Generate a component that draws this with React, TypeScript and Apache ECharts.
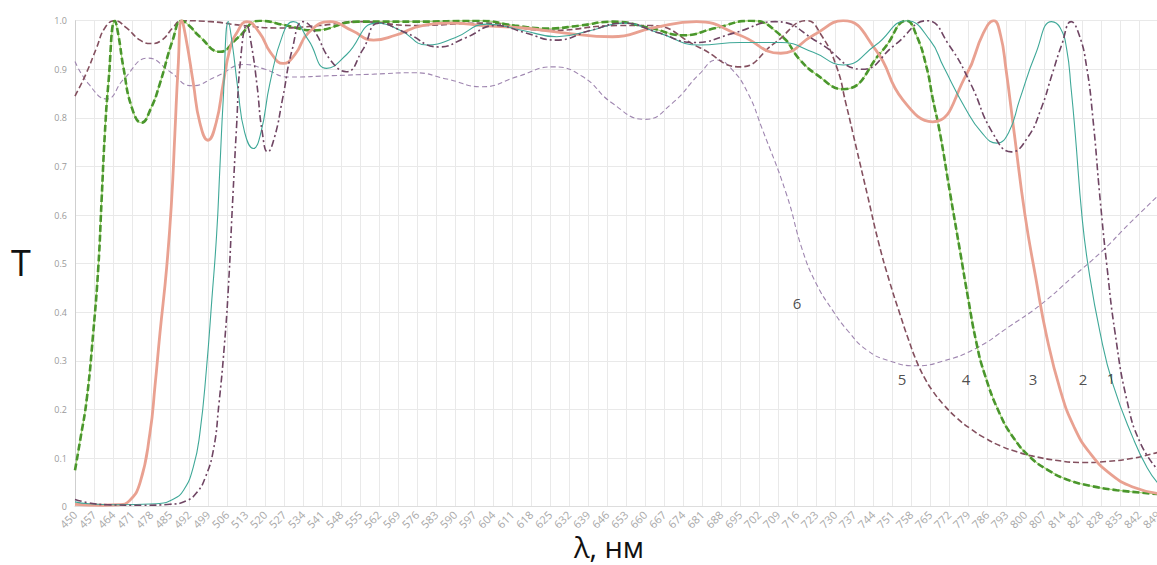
import React, { useEffect, useRef } from "react";
import * as echarts from "echarts";

// wavelengths axis
const X_MIN = 450;
const X_MAX = 849;
const X_STEP = 7;

// Curve 1 (dash-dot, dark mauve)
const curve1: [number, number][] = [
  [450, 0.015], [455, 0.008], [462, 0.004], [475, 0.003], [485, 0.005], [491, 0.012], [495, 0.03], [498, 0.06],
  [501, 0.117], [503, 0.21], [505, 0.33], [506.5, 0.45], [508, 0.62], [509.5, 0.78], [511, 0.92], [513.3, 0.99],
  [515, 0.95], [517, 0.87], [519, 0.77], [521, 0.73], [523.5, 0.76], [526.5, 0.84], [530, 0.94], [534, 0.998],
  [538, 0.98], [544, 0.92], [550, 0.895], [556, 0.94], [562, 0.995], [572, 0.975], [584, 0.946], [594, 0.965],
  [605, 0.99], [616, 0.975], [627, 0.96], [640, 0.98], [652, 0.995], [665, 0.975], [678, 0.955], [693, 0.975],
  [708, 0.998], [724, 0.955], [740, 0.9], [752, 0.95], [764, 1.0], [772, 0.95], [780, 0.87], [788, 0.77],
  [795, 0.73], [801, 0.76], [806, 0.82], [810, 0.89], [813.5, 0.95], [817, 0.998], [820, 0.97], [822.7, 0.905],
  [825, 0.8], [827.7, 0.631], [830.2, 0.494], [833.2, 0.357], [837.5, 0.22], [842.5, 0.131], [849, 0.075],
];

// Curve 2 (thin solid teal)
const curve2: [number, number][] = [
  [450, 0.01], [455, 0.006], [465, 0.004], [480, 0.006], [486, 0.015], [490, 0.034], [493.6, 0.082], [496, 0.151],
  [498.5, 0.288], [500.4, 0.425], [502.2, 0.562], [503.4, 0.7], [504.6, 0.837], [506.5, 0.998], [508, 0.95],
  [510, 0.86], [512.5, 0.77], [515.7, 0.737], [518.5, 0.77], [521.8, 0.871], [526.7, 0.974], [530.4, 0.998],
  [536, 0.96], [542.7, 0.902], [550, 0.93], [561, 0.995], [570, 0.98], [579.6, 0.95], [590, 0.965], [601.7, 0.993],
  [615, 0.98], [627.5, 0.967], [640, 0.98], [652, 0.995], [665, 0.975], [680, 0.95], [695, 0.955], [710, 0.955],
  [722, 0.935], [733, 0.909], [745, 0.95], [756.4, 1.0], [765, 0.96], [770, 0.905], [778, 0.82], [784, 0.77],
  [789.6, 0.748], [794, 0.77], [798, 0.837], [804, 0.933], [809.8, 0.998], [813, 0.985], [815.4, 0.94], [817, 0.86],
  [818.5, 0.768], [821, 0.597], [823.3, 0.494], [827.7, 0.357], [832.5, 0.25], [839.9, 0.14], [845, 0.08], [849, 0.048],
];

// Curve 3 (thick salmon)
const curve3: [number, number][] = [
  [450, 0.005], [460, 0.003], [466, 0.004], [470, 0.012], [474, 0.05], [477.6, 0.151], [479.5, 0.25], [481.3, 0.357],
  [483.8, 0.494], [485.6, 0.631], [486.8, 0.768], [488, 0.905], [489.3, 1.0], [491, 0.96], [493.6, 0.871], [496, 0.79],
  [499, 0.754], [502, 0.79], [504.6, 0.871], [507, 0.94], [509.5, 0.974], [513.3, 0.998], [518, 0.975], [522, 0.935],
  [526.7, 0.912], [531, 0.93], [536, 0.975], [544, 0.998], [552, 0.98], [560, 0.96], [568, 0.97], [578, 0.99],
  [589, 0.995], [600, 0.99], [615, 0.985], [630, 0.975], [648, 0.967], [663, 0.985], [679, 0.998], [695, 0.97],
  [710, 0.933], [722, 0.97], [733, 1.0], [745, 0.94], [755, 0.837], [766, 0.792], [778.5, 0.89], [784.6, 0.974],
  [788.5, 1.0], [791, 0.97], [793, 0.9], [796, 0.77], [800, 0.6], [804, 0.47], [808, 0.35], [813, 0.24],
  [818, 0.165], [824, 0.11], [832, 0.065], [840, 0.04], [849, 0.027],
];

// Curve 4 (thick dashed green)
const curve4: [number, number][] = [
  [450, 0.075], [452, 0.14], [454.3, 0.22], [456.7, 0.357], [458.6, 0.494], [459.8, 0.631], [461, 0.768], [462.3, 0.871],
  [464.7, 1.0], [466, 0.97], [467.8, 0.905], [471, 0.82], [474.5, 0.79], [478, 0.82], [481.3, 0.871], [486, 0.96],
  [489.3, 1.0], [492, 0.99], [496, 0.967], [503.4, 0.936], [510, 0.965], [518, 1.0], [528, 0.99], [538, 0.98],
  [554, 0.998], [575, 0.998], [599, 1.0], [612, 0.99], [624, 0.984], [636, 0.99], [648, 0.998], [662, 0.985],
  [674, 0.97], [686, 0.985], [699, 1.0], [710, 0.97], [717, 0.92], [723, 0.89], [733, 0.859], [747.7, 0.94],
  [756.4, 1.0], [760, 0.97], [763.7, 0.905], [766, 0.84], [768.7, 0.768], [772.4, 0.645], [776, 0.528], [779, 0.43],
  [782, 0.34], [785, 0.275], [790.8, 0.19], [796, 0.14], [801.9, 0.102], [808, 0.077], [815.4, 0.056], [824, 0.043],
  [833.8, 0.034], [849, 0.026],
];

// Curve 5 (dashed dark brown)
const curve5: [number, number][] = [
  [450, 0.845], [454, 0.89], [458, 0.945], [461, 0.985], [464.7, 1.0], [469, 0.985], [474, 0.96], [478, 0.953],
  [482, 0.96], [486, 0.985], [489.3, 1.0], [500, 0.998], [512, 0.99], [525, 0.985], [540, 0.99], [555, 0.998],
  [575, 0.99], [600, 0.995], [625, 0.98], [650, 0.99], [662, 0.99], [680, 0.945], [695, 0.905], [708, 0.955],
  [719.6, 1.0], [725, 0.97], [730.6, 0.905], [734, 0.83], [738, 0.735], [742, 0.64], [746, 0.545], [750, 0.465],
  [754, 0.395], [757, 0.345], [760, 0.3], [763, 0.265], [766, 0.238], [770, 0.21], [775, 0.182], [780, 0.16],
  [785, 0.142], [791, 0.125], [797, 0.113], [803, 0.104], [812, 0.095], [821, 0.091], [830, 0.093], [840, 0.1],
  [849, 0.112],
];

// Curve 6 (thin dashed light purple)
const curve6: [number, number][] = [
  [450, 0.916], [455, 0.87], [461.7, 0.839], [468, 0.88], [477, 0.923], [485, 0.895], [493, 0.866], [502, 0.885],
  [512.6, 0.91], [520, 0.9], [529, 0.884], [545, 0.887], [560, 0.89], [575, 0.893], [587, 0.88], [600, 0.864],
  [613, 0.885], [626, 0.905], [637, 0.885], [648, 0.83], [660, 0.797], [670, 0.83], [680, 0.89], [686.5, 0.919],
  [692, 0.9], [698, 0.85], [703, 0.78], [712, 0.645], [718, 0.528], [723, 0.46], [729, 0.405], [735, 0.36],
  [741.8, 0.322], [750, 0.3], [760, 0.29], [770, 0.3], [782, 0.326], [794, 0.37], [805.6, 0.415], [817, 0.47],
  [828.8, 0.528], [838, 0.58], [849, 0.64],
];

// Curve number annotations: [λ, T, label]
const curveLabels: [number, number, string][] = [
  [716, 0.42, "6"],
  [754.7, 0.263, "5"],
  [778.3, 0.263, "4"],
  [803, 0.263, "3"],
  [821.4, 0.263, "2"],
  [831.7, 0.265, "1"],
];

const seriesStyles = [
  { data: curve1, color: "#6f4563", width: 1.6, type: [7, 3, 2, 3] as any },
  { data: curve2, color: "#3fa898", width: 1.1, type: "solid" as any },
  { data: curve3, color: "#e9a191", width: 2.8, type: "solid" as any },
  { data: curve4, color: "#4a962c", width: 2.6, type: [7, 3] as any },
  { data: curve5, color: "#84505f", width: 1.6, type: [6, 3] as any },
  { data: curve6, color: "#9f86b0", width: 1.1, type: [5, 3] as any },
];

export default function App() {
  const ref = useRef<HTMLDivElement>(null);

  useEffect(() => {
    document.body.style.margin = "0";
    if (!ref.current) return;
    const chart = echarts.init(ref.current, undefined, { renderer: "svg" });

    const lineSeries: any[] = seriesStyles.map((s, i) => ({
      type: "line",
      name: String(i + 1),
      data: s.data,
      showSymbol: false,
      symbol: "none",
      smooth: 0.5,
      z: 10 - i,
      lineStyle: { color: s.color, width: s.width, type: s.type },
      silent: true,
    }));
    // light green underlay of curve 4
    lineSeries.push({
      type: "line",
      name: "4-under",
      data: curve4,
      showSymbol: false,
      symbol: "none",
      smooth: 0.5,
      z: 5,
      lineStyle: { color: "#a9dc7c", width: 1.2, type: "solid" },
      silent: true,
    });

    chart.setOption({
      animation: false,
      backgroundColor: "#ffffff",
      grid: {
        left: 75,
        right: -1,
        top: 20.7,
        bottom: 58.3,
        containLabel: false,
        outerBoundsMode: "none",
      } as any,
      xAxis: {
        type: "value",
        min: X_MIN,
        max: X_MAX,
        interval: X_STEP,
        axisLine: { show: true, lineStyle: { color: "#dddddd", width: 1 } },
        axisTick: { show: false },
        axisLabel: {
          rotate: 45,
          fontSize: 11,
          color: "#a8a8a8",
          margin: 6,
          fontFamily: "Open Sans",
          showMaxLabel: true,
          showMinLabel: true,
          hideOverlap: false,
        },
        splitLine: { show: true, lineStyle: { color: "#e9e9e9", width: 1 } },
      },
      yAxis: {
        type: "value",
        min: 0,
        max: 1,
        interval: 0.1,
        axisLine: { show: true, lineStyle: { color: "#cfcfcf", width: 1 } },
        axisTick: { show: false },
        axisLabel: {
          fontSize: 9,
          color: "#9a9a9a",
          margin: 8,
          fontFamily: "Open Sans",
          formatter: (v: number) => (v === 0 ? "0" : v.toFixed(1)),
        },
        splitLine: { show: true, lineStyle: { color: "#e9e9e9", width: 1 } },
      },
      series: [
        ...lineSeries,
        {
          type: "scatter",
          data: curveLabels.map((d) => ({ value: [d[0], d[1]], name: d[2] })),
          symbolSize: 1,
          itemStyle: { color: "rgba(255,255,255,0)" },
          silent: true,
          z: 20,
          label: {
            show: true,
            position: "inside",
            formatter: (p: any) => p.name,
            fontSize: 15,
            color: "#222222",
            fontFamily: "Open Sans",
          },
        },
      ],
      graphic: [
        {
          type: "text",
          x: 21,
          y: 262,
          style: {
            text: "T",
            fontSize: 36,
            fontFamily: "Open Sans",
            fill: "#111111",
            align: "center",
            verticalAlign: "middle",
          },
        },
        {
          type: "text",
          x: 609,
          y: 546,
          style: {
            text: "λ, нм",
            fontSize: 29,
            fontFamily: "Open Sans",
            fill: "#111111",
            align: "center",
            verticalAlign: "middle",
          },
        },
      ],
    });

    return () => chart.dispose();
  }, []);

  return <div ref={ref} style={{ width: 1157, height: 565 }} />;
}
